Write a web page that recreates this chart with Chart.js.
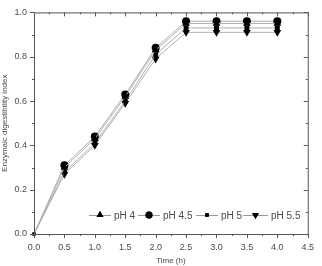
<!DOCTYPE html>
<html>
<head>
<meta charset="utf-8">
<script src="https://cdn.jsdelivr.net/npm/chart.js@4/dist/chart.umd.min.js"></script>
<style>
  html, body { margin: 0; padding: 0; background: #fff; }
  #wrap { width: 322px; height: 266px; position: relative; }
</style>
</head>
<body>
<div id="wrap"><canvas id="chart"></canvas></div>
<script>
// time points (h)
const times = [0, 0.5, 1.0, 1.5, 2.0, 2.5, 3.0, 3.5, 4.0];
// enzymatic digestibility index per pH
const ph4  = [0, 0.30, 0.43, 0.62, 0.83, 0.95, 0.95, 0.95, 0.95];
const ph45 = [0, 0.31, 0.44, 0.63, 0.84, 0.96, 0.96, 0.96, 0.96];
const ph5  = [0, 0.28, 0.41, 0.60, 0.81, 0.93, 0.93, 0.93, 0.93];
const ph55 = [0, 0.27, 0.40, 0.59, 0.79, 0.91, 0.91, 0.91, 0.91];
const seriesLabels = ['pH 4', 'pH 4.5', 'pH 5', 'pH 5.5'];
const xTicks = [0, 0.5, 1.0, 1.5, 2.0, 2.5, 3.0, 3.5, 4.0, 4.5];
const yTicks = [0, 0.2, 0.4, 0.6, 0.8, 1.0];

const FONT = 'Liberation Sans, Arial, sans-serif';
const TEXT = '#4a4a4a';

const styles = [
    { pointStyle: 'triangle', rotation: 0, radius: 4.5 },
    { pointStyle: 'circle', rotation: 0, radius: 4 },
    { pointStyle: 'rect', rotation: 0, radius: 3.5 },
    { pointStyle: 'triangle', rotation: 180, radius: 4.5 }
];

const makeSet = (label, values, s) => ({
    label: label,
    data: times.map((t, i) => ({ x: t, y: values[i] })),
    borderColor: '#b0b0b0',
    borderWidth: 1,
    backgroundColor: '#000',
    pointBackgroundColor: '#000',
    pointBorderColor: '#000',
    pointBorderWidth: 0,
    pointStyle: (c) => c.dataIndex === 0 ? 'rect' : s.pointStyle,
    pointRotation: s.rotation,
    pointRadius: (c) => c.dataIndex === 0 ? 2 : s.radius,
    tension: 0,
    clip: false
});

// frame, minor ticks, mirrored ticks, legend inside plot
const framePlugin = {
    id: 'frame',
    afterDraw(chart) {
        const { ctx, chartArea: a, scales: { x, y } } = chart;
        ctx.save();
        ctx.strokeStyle = '#555';
        ctx.lineWidth = 1;
        ctx.strokeRect(a.left + 0.5, a.top + 0.5, a.right - a.left, a.bottom - a.top);

        ctx.beginPath();
        // x ticks
        for (let v = 0; v <= 4.5001; v += 0.25) {
            const px = Math.round(x.getPixelForValue(v)) + 0.5;
            const major = Math.abs(v * 2 - Math.round(v * 2)) < 1e-6;
            const len = major ? 4 : 2;
            ctx.moveTo(px, a.bottom); ctx.lineTo(px, a.bottom + len);
            ctx.moveTo(px, a.top); ctx.lineTo(px, a.top + len);
        }
        // y ticks
        for (let k = 0; k <= 10; k++) {
            const v = k / 10;
            const py = Math.round(y.getPixelForValue(v)) + 0.5;
            const len = k % 2 === 0 ? 4 : 2;
            ctx.moveTo(a.left, py); ctx.lineTo(a.left - len, py);
            ctx.moveTo(a.right, py); ctx.lineTo(a.right - len, py);
        }
        ctx.stroke();

        // legend
        const ly = 215;
        const items = [
            { x: 89, w: 22 },
            { x: 138, w: 22 },
            { x: 196, w: 22 },
            { x: 243, w: 25 }
        ];
        ctx.font = '10px ' + FONT;
        ctx.textBaseline = 'middle';
        chart.data.datasets.forEach((ds, i) => {
            const it = items[i];
            ctx.strokeStyle = '#999';
            ctx.beginPath();
            ctx.moveTo(it.x, ly + 0.5); ctx.lineTo(it.x + it.w, ly + 0.5);
            ctx.stroke();
            const s = styles[i];
            ctx.fillStyle = '#000';
            Chart.helpers.drawPoint(ctx, {
                pointStyle: s.pointStyle, rotation: s.rotation,
                radius: s.pointStyle === 'rect' ? 2.5 : s.radius - 0.5, borderWidth: 0
            }, it.x + it.w / 2, ly);
            ctx.fill();
            ctx.fillStyle = TEXT;
            ctx.fillText(ds.label, it.x + it.w + 3, ly + 1);
        });
        ctx.restore();
    }
};

new Chart(document.getElementById('chart'), {
    type: 'line',
    data: {
        datasets: [
            makeSet(seriesLabels[0], ph4, styles[0]),
            makeSet(seriesLabels[1], ph45, styles[1]),
            makeSet(seriesLabels[2], ph5, styles[2]),
            makeSet(seriesLabels[3], ph55, styles[3])
        ]
    },
    options: {
        responsive: true,
        maintainAspectRatio: false,
        animation: false,
        layout: { padding: { top: 6, right: 8, left: 0, bottom: 0 } },
        plugins: {
            legend: { display: false },
            tooltip: { enabled: false }
        },
        scales: {
            x: {
                type: 'linear',
                min: 0, max: 4.5,
                afterBuildTicks: (s) => { s.ticks = xTicks.map(v => ({ value: v })); },
                afterFit: (s) => { s.height = 32; },
                grid: { display: false, drawTicks: false },
                border: { display: false },
                ticks: {
                    padding: 8,
                    color: TEXT,
                    font: { family: FONT, size: 9 },
                    maxRotation: 0,
                    callback: (v) => Number(v).toFixed(1)
                },
                title: {
                    display: true,
                    text: 'Time (h)',
                    color: TEXT,
                    font: { family: FONT, size: 8 },
                    padding: { top: 1, bottom: 0 }
                }
            },
            y: {
                min: 0, max: 1,
                afterBuildTicks: (s) => { s.ticks = yTicks.map(v => ({ value: v })); },
                afterFit: (s) => { s.width = 34; },
                grid: { display: false, drawTicks: false },
                border: { display: false },
                ticks: {
                    padding: 7,
                    color: TEXT,
                    font: { family: FONT, size: 9 },
                    callback: (v) => Number(v).toFixed(1)
                },
                title: {
                    display: true,
                    text: 'Enzymaic digestibility index',
                    color: TEXT,
                    font: { family: FONT, size: 8 },
                    padding: { top: 0, bottom: 0 }
                }
            }
        }
    },
    plugins: [framePlugin]
});
</script>
</body>
</html>
